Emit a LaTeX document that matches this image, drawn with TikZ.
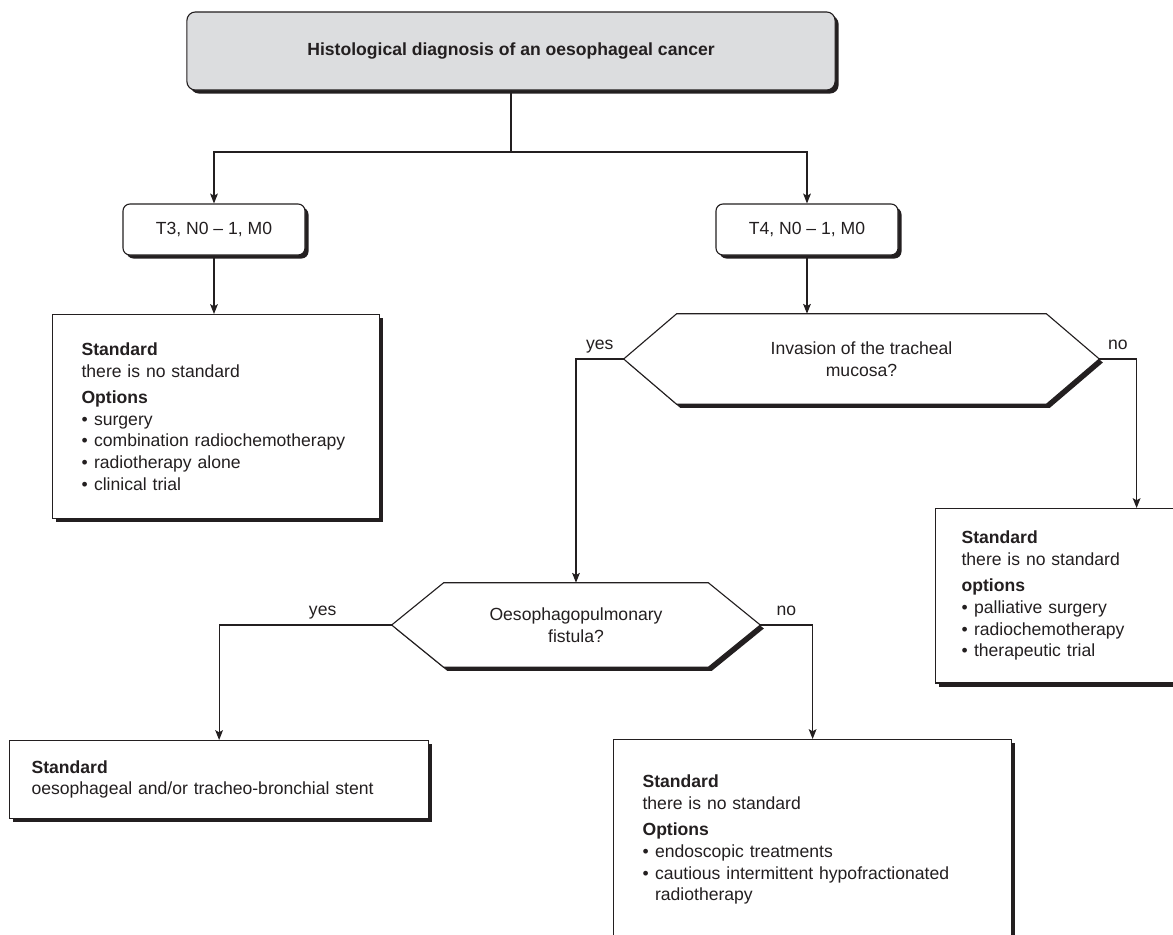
\documentclass[tikz,border=0pt]{standalone}
\usepackage{fontspec}
\setmainfont{Liberation Sans}
\usetikzlibrary{arrows.meta}
\usetikzlibrary{shadows}
\usetikzlibrary{backgrounds}

\definecolor{boxgray}{HTML}{DCDDDF}
\definecolor{ink}{HTML}{231F20}

\newcommand{\bul}{\textbullet\hspace{4.5pt}}

\tikzset{
      every node/.style={font=\fontsize{12.5}{15.4}\selectfont, text=ink},
      boxshadow/.style={drop shadow={shadow xshift=2.5pt, shadow yshift=-2.5pt, fill=ink, opacity=1}},
      startbox/.style={draw=ink, line width=0.8pt, fill=boxgray, rounded corners=6pt, boxshadow,
            minimum width=16.2cm, minimum height=1.95cm},
      stagebox/.style={draw=ink, line width=0.8pt, fill=white, rounded corners=5pt, boxshadow,
            minimum width=4.55cm, minimum height=1.275cm},
      infobox/.style={draw=ink, line width=0.8pt, fill=white, boxshadow, align=left, anchor=north west},
      question/.style={align=center, inner sep=0pt},
      hexagon/.style={draw=ink, line width=0.8pt, fill=white, boxshadow, line join=miter},
      link/.style={draw=ink, line width=0.8pt},
      flow/.style={draw=ink, line width=0.8pt, -{Stealth[length=7pt, width=5.5pt, inset=1.5pt]}},
      answer/.style={anchor=base, yshift=6.5pt, inner sep=0pt},
}

\begin{document}
\begin{tikzpicture}[x=0.025cm, y=-0.025cm]
        \useasboundingbox (0,0) rectangle (1173,935);
        \clip (0,0) rectangle (1173,935);

        % Diagnosis and staging
        \node[startbox] (diagnosis) at (511,51) {\textbf{Histological diagnosis of an oesophageal cancer}};
        \coordinate (split) at (511,152);
        \node[stagebox] (tthree) at (214,229.5) {T3, N0 -- 1, M0};
        \node[stagebox] (tfour) at (807,229.5) {T4, N0 -- 1, M0};

        \draw[link] (diagnosis.south) -- (split);
        \draw[flow] (split) -| (tthree.north);
        \draw[flow] (split) -| (tfour.north);

        % T3 branch
        \node[infobox, minimum height=5.1cm, text width=6.725cm, inner xsep=0.725cm] (tthreeopt) at (52,314)
              {\textbf{Standard}\\
               there is no standard\\[3.5pt]
               \textbf{Options}\\
               \bul surgery\\
               \bul combination radiochemotherapy\\
               \bul radiotherapy alone\\
               \bul clinical trial};
        \draw[flow] (tthree.south) -- (tthree.south |- tthreeopt.north);

        % T4 branch: tracheal mucosa
        \node[question, minimum width=9.225cm, minimum height=2.25cm] (invasion) at (861.5,359)
              {Invasion of the tracheal\\mucosa?};
        \coordinate (invasion-yes) at ([xshift=-1.325cm]invasion.west);
        \coordinate (invasion-no) at ([xshift=1.325cm]invasion.east);
        \begin{pgfonlayer}{background}
        \draw[hexagon] (invasion.north west) -- (invasion.north east) -- (invasion-no)
              -- (invasion.south east) -- (invasion.south west) -- (invasion-yes) -- cycle;
        \end{pgfonlayer}
        \draw[flow] (tfour.south) -- (tfour.south |- invasion.north);

        \node[infobox, minimum height=4.36cm, text width=8.75cm, inner xsep=0.65cm] (invasionno) at (935,508)
              {\textbf{Standard}\\
               there is no standard\\[3.5pt]
               \textbf{options}\\
               \bul palliative surgery\\
               \bul radiochemotherapy\\
               \bul therapeutic trial};
        \draw[flow] (invasion-no) -| node[answer, pos=0.25] {no} (invasionno.north);

        % Fistula
        \node[question, minimum width=6.6cm, minimum height=2.1cm] (fistula) at (576,625)
              {Oesophagopulmonary\\fistula?};
        \coordinate (fistula-yes) at ([xshift=-1.3cm]fistula.west);
        \coordinate (fistula-no) at ([xshift=1.3cm]fistula.east);
        \begin{pgfonlayer}{background}
        \draw[hexagon] (fistula.north west) -- (fistula.north east) -- (fistula-no)
              -- (fistula.south east) -- (fistula.south west) -- (fistula-yes) -- cycle;
        \end{pgfonlayer}
        \draw[flow] (invasion-yes) -| node[answer, pos=0.25] {yes} (fistula.north);

        \node[infobox, minimum height=1.95cm, text width=9.375cm, inner xsep=0.55cm] (fistulayes) at (9,740)
              {\textbf{Standard}\\
               oesophageal and/or tracheo-bronchial stent};
        \draw[flow] (fistula-yes) -| node[answer, pos=0.2] {yes} (fistulayes.north);

        \node[infobox, minimum height=5cm, text width=8.5cm, inner xsep=0.725cm] (fistulano) at (613,739)
              {\textbf{Standard}\\
               there is no standard\\[3.5pt]
               \textbf{Options}\\
               \bul endoscopic treatments\\
               \bul cautious intermittent hypofractionated\\
               \phantom{\bul}radiotherapy};
        \draw[flow] (fistula-no) -| node[answer, pos=0.25] {no} (fistulano.north);

\end{tikzpicture}
\end{document}
